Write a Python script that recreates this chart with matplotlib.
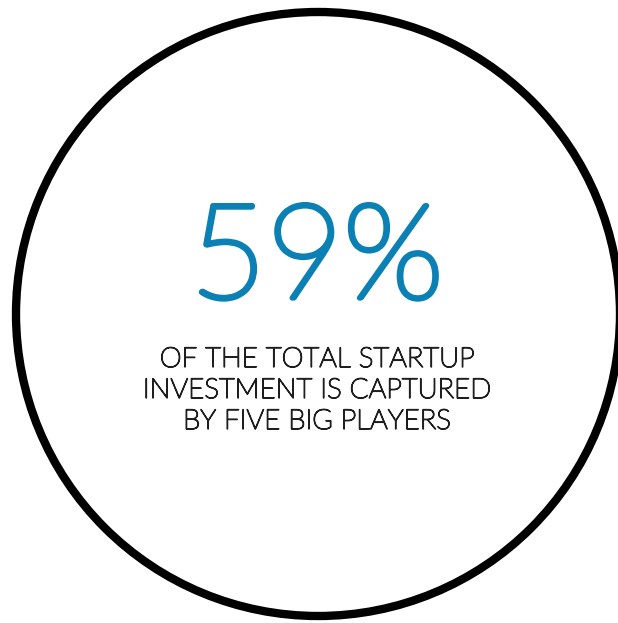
"""Single-stat infographic: share of startup investment held by five players."""

import matplotlib.pyplot as plt
import matplotlib.patheffects as pe
from matplotlib.patches import Circle

share_pct = [59]
caption_lines = [
    "OF THE TOTAL STARTUP",
    "INVESTMENT IS CAPTURED",
    "BY FIVE BIG PLAYERS",
]

W, H = 618, 623
BLUE = "#0a80b4"
INK = "#1e1e1e"

plt.rcParams["font.family"] = ["Lato", "DejaVu Sans"]

fig = plt.figure(figsize=(W / 100, H / 100), dpi=100)
ax = fig.add_axes([0, 0, 1, 1])
ax.set_xlim(0, W)
ax.set_ylim(H, 0)
ax.axis("off")

ax.add_patch(Circle((318, 314), 302, fill=False, edgecolor="black", linewidth=6))

# the hairline cut is too thin on its own, so thicken it with a stroke
big = ax.text(317, 298, f"{share_pct[0]}%", ha="center", va="baseline",
              fontsize=95, fontweight="light", color=BLUE)
big.set_path_effects([pe.withStroke(linewidth=3.8, foreground=BLUE)])

for i, line in enumerate(caption_lines):
    t = ax.text(317, 367 + i * 31, line, ha="center", va="baseline",
                fontsize=20, fontweight="light", color=INK)
    t.set_path_effects([pe.withStroke(linewidth=1.0, foreground=INK)])

fig.savefig("out.png", dpi=100)
